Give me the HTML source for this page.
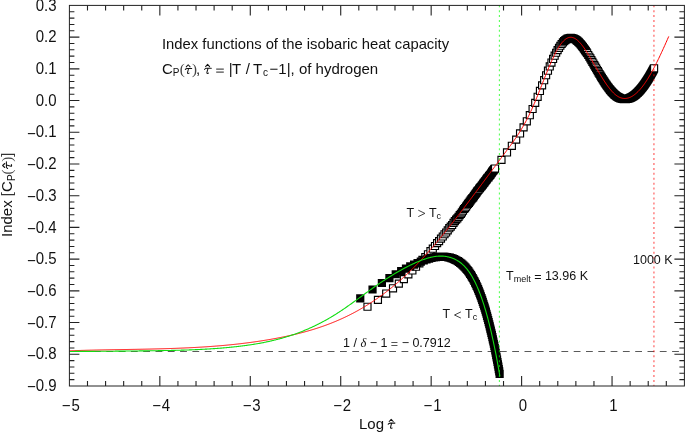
<!DOCTYPE html>
<html><head><meta charset="utf-8"><style>
html,body{margin:0;padding:0;background:#fff;}
svg{display:block;will-change:transform;font-family:"Liberation Sans",sans-serif;-webkit-font-smoothing:antialiased;}
text:not([fill]){fill:#111;}
</style></head><body>
<svg width="685" height="432" viewBox="0 0 685 432">
<rect width="685" height="432" fill="#fff"/>
<line x1="69.4" y1="351.49" x2="684.4" y2="351.49" stroke="#5a5a5a" stroke-width="1.05" stroke-dasharray="6.8 5.5"/>
<path fill="#000" d="M435.85 252.68 L433.90 252.68 L433.90 252.94 L431.86 252.94 L431.86 253.31 L429.71 253.31 L429.71 253.82 L427.42 253.82 L427.42 254.48 L425.00 254.48 L425.00 255.30 L422.42 255.30 L422.42 256.29 L419.66 256.29 L419.66 257.48 L416.69 257.48 L416.69 258.89 L413.47 258.89 L413.47 260.50 L409.97 260.50 L409.97 262.33 L406.13 262.33 L406.13 264.48 L401.87 264.48 L401.87 267.05 L397.08 267.05 L397.08 270.17 L391.64 270.17 L391.64 274.01 L385.32 274.01 L385.32 278.90 L377.78 278.90 L377.78 287.10 L385.98 287.10 L385.98 282.21 L393.52 282.21 L393.52 278.37 L399.84 278.37 L399.84 275.25 L405.28 275.25 L405.28 272.68 L410.07 272.68 L410.07 270.53 L414.33 270.53 L414.33 268.70 L418.17 268.70 L418.17 267.09 L421.67 267.09 L421.67 265.68 L424.89 265.68 L424.89 264.49 L427.86 264.49 L427.86 263.50 L430.62 263.50 L430.62 262.68 L433.20 262.68 L433.20 262.02 L435.62 262.02 L435.62 261.51 L437.91 261.51 L437.91 261.14 L440.06 261.14 L440.06 260.88 L441.16 260.88 L441.16 260.90 L442.78 260.90 L442.78 261.12 L444.34 261.12 L444.34 261.41 L445.83 261.41 L445.83 261.77 L447.28 261.77 L447.28 262.22 L448.67 262.22 L448.67 262.73 L450.01 262.73 L450.01 263.30 L451.31 263.30 L451.31 263.91 L452.57 263.91 L452.57 264.58 L453.79 264.58 L453.79 265.29 L454.97 265.29 L454.97 266.06 L456.12 266.06 L456.12 266.88 L457.23 266.88 L457.23 267.76 L458.32 267.76 L458.32 268.69 L459.37 268.69 L459.37 269.67 L460.40 269.67 L460.40 270.70 L461.40 270.70 L461.40 271.78 L462.38 271.78 L462.38 272.91 L463.33 272.91 L463.33 274.08 L464.26 274.08 L464.26 275.31 L465.17 275.31 L465.17 276.58 L466.06 276.58 L466.06 277.90 L466.93 277.90 L466.93 279.26 L467.78 279.26 L467.78 280.66 L468.61 280.66 L468.61 282.10 L469.42 282.10 L469.42 283.58 L470.22 283.58 L470.22 285.10 L471.00 285.10 L471.00 286.66 L471.77 286.66 L471.77 288.25 L472.52 288.25 L472.52 289.88 L473.26 289.88 L473.26 291.55 L473.99 291.55 L473.99 293.24 L474.70 293.24 L474.70 294.97 L475.40 294.97 L475.40 296.73 L476.08 296.73 L476.08 298.52 L476.76 298.52 L476.76 300.34 L477.42 300.34 L477.42 302.18 L478.07 302.18 L478.07 304.05 L478.71 304.05 L478.71 305.95 L479.34 305.95 L479.34 307.88 L479.97 307.88 L479.97 309.83 L480.58 309.83 L480.58 311.80 L481.18 311.80 L481.18 313.79 L481.77 313.79 L481.77 315.81 L482.36 315.81 L482.36 317.85 L482.93 317.85 L482.93 319.91 L483.50 319.91 L483.50 321.99 L484.06 321.99 L484.06 324.09 L484.61 324.09 L484.61 326.21 L485.15 326.21 L485.15 328.35 L485.69 328.35 L485.69 330.51 L486.22 330.51 L486.22 332.64 L486.74 332.64 L486.74 334.76 L487.26 334.76 L487.26 336.90 L487.77 336.90 L487.77 339.05 L488.27 339.05 L488.27 341.22 L488.76 341.22 L488.76 343.41 L489.25 343.41 L489.25 345.61 L489.74 345.61 L489.74 347.83 L490.22 347.83 L490.22 350.07 L490.69 350.07 L490.69 352.32 L491.15 352.32 L491.15 354.58 L491.61 354.58 L491.61 356.86 L492.07 356.86 L492.07 359.15 L492.52 359.15 L492.52 361.45 L492.97 361.45 L492.97 363.77 L493.41 363.77 L493.41 366.10 L493.84 366.10 L493.84 368.44 L494.27 368.44 L494.27 370.79 L494.70 370.79 L494.70 373.16 L495.12 373.16 L495.12 375.53 L495.54 375.53 L495.54 377.92 L503.74 377.92 L503.74 369.72 L503.32 369.72 L503.32 367.33 L502.90 367.33 L502.90 364.96 L502.47 364.96 L502.47 362.59 L502.04 362.59 L502.04 360.24 L501.61 360.24 L501.61 357.90 L501.17 357.90 L501.17 355.57 L500.72 355.57 L500.72 353.25 L500.27 353.25 L500.27 350.95 L499.81 350.95 L499.81 348.66 L499.35 348.66 L499.35 346.38 L498.89 346.38 L498.89 344.12 L498.42 344.12 L498.42 341.87 L497.94 341.87 L497.94 339.63 L497.45 339.63 L497.45 337.41 L496.96 337.41 L496.96 335.21 L496.47 335.21 L496.47 333.02 L495.97 333.02 L495.97 330.85 L495.46 330.85 L495.46 328.70 L494.94 328.70 L494.94 326.56 L494.42 326.56 L494.42 324.44 L493.89 324.44 L493.89 322.31 L493.35 322.31 L493.35 320.15 L492.81 320.15 L492.81 318.01 L492.26 318.01 L492.26 315.89 L491.70 315.89 L491.70 313.79 L491.13 313.79 L491.13 311.71 L490.56 311.71 L490.56 309.65 L489.97 309.65 L489.97 307.61 L489.38 307.61 L489.38 305.59 L488.78 305.59 L488.78 303.60 L488.17 303.60 L488.17 301.63 L487.54 301.63 L487.54 299.68 L486.91 299.68 L486.91 297.75 L486.27 297.75 L486.27 295.85 L485.62 295.85 L485.62 293.98 L484.96 293.98 L484.96 292.14 L484.28 292.14 L484.28 290.32 L483.60 290.32 L483.60 288.53 L482.90 288.53 L482.90 286.77 L482.19 286.77 L482.19 285.04 L481.46 285.04 L481.46 283.35 L480.72 283.35 L480.72 281.68 L479.97 281.68 L479.97 280.05 L479.20 280.05 L479.20 278.46 L478.42 278.46 L478.42 276.90 L477.62 276.90 L477.62 275.38 L476.81 275.38 L476.81 273.90 L475.98 273.90 L475.98 272.46 L475.13 272.46 L475.13 271.06 L474.26 271.06 L474.26 269.70 L473.37 269.70 L473.37 268.38 L472.46 268.38 L472.46 267.11 L471.53 267.11 L471.53 265.88 L470.58 265.88 L470.58 264.71 L469.60 264.71 L469.60 263.58 L468.60 263.58 L468.60 262.50 L467.57 262.50 L467.57 261.47 L466.52 261.47 L466.52 260.49 L465.43 260.49 L465.43 259.56 L464.32 259.56 L464.32 258.68 L463.17 258.68 L463.17 257.86 L461.99 257.86 L461.99 257.09 L460.77 257.09 L460.77 256.38 L459.51 256.38 L459.51 255.71 L458.21 255.71 L458.21 255.10 L456.87 255.10 L456.87 254.53 L455.48 254.53 L455.48 254.02 L454.03 254.02 L454.03 253.57 L452.54 253.57 L452.54 253.21 L450.98 253.21 L450.98 252.92 L449.36 252.92 L449.36 252.70 L447.67 252.70 L447.67 252.56 L445.90 252.56 L445.90 252.50 L437.70 252.50 L437.70 252.54 L435.85 252.54ZM376.64 293.58 L376.64 285.38 L368.44 285.38 L368.44 293.58ZM356.16 302.50 L364.36 302.50 L364.36 294.30 L356.16 294.30Z"/>
<path fill="#000" d="M470.65 192.01 L469.86 192.01 L469.86 193.29 L469.06 193.29 L469.06 194.11 L468.24 194.11 L468.24 195.12 L467.40 195.12 L467.40 196.25 L466.54 196.25 L466.54 197.56 L465.66 197.56 L465.66 198.72 L464.77 198.72 L464.77 199.82 L463.85 199.82 L463.85 201.16 L462.91 201.16 L462.91 202.58 L461.94 202.58 L461.94 203.96 L460.96 203.96 L460.96 204.90 L459.94 204.90 L459.94 206.48 L458.90 206.48 L458.90 208.21 L457.83 208.21 L457.83 209.70 L456.74 209.70 L456.74 211.01 L455.61 211.01 L455.61 212.75 L454.44 212.75 L454.44 214.28 L453.25 214.28 L453.25 215.50 L452.01 215.50 L452.01 217.04 L450.73 217.04 L450.73 218.79 L449.41 218.79 L449.41 220.88 L448.05 220.88 L448.05 222.52 L446.63 222.52 L446.63 224.11 L445.17 224.11 L445.17 226.23 L443.64 226.23 L443.64 228.40 L442.06 228.40 L442.06 230.17 L440.40 230.17 L440.40 232.40 L438.68 232.40 L438.68 234.50 L436.88 234.50 L436.88 237.01 L434.98 237.01 L434.98 239.03 L433.00 239.03 L433.00 241.92 L430.91 241.92 L430.91 244.58 L428.70 244.58 L428.70 247.02 L426.35 247.02 L426.35 250.13 L423.86 250.13 L423.86 252.98 L421.20 252.98 L421.20 255.83 L418.35 255.83 L418.35 259.42 L415.27 259.42 L415.27 262.63 L411.94 262.63 L411.94 266.42 L408.29 266.42 L408.29 270.28 L404.27 270.28 L404.27 275.02 L399.79 275.02 L399.79 279.54 L394.73 279.54 L394.73 284.19 L388.92 284.19 L388.92 289.46 L382.10 289.46 L382.10 297.66 L390.30 297.66 L390.30 292.39 L397.12 292.39 L397.12 287.74 L402.93 287.74 L402.93 283.22 L407.99 283.22 L407.99 278.48 L412.47 278.48 L412.47 274.62 L416.49 274.62 L416.49 270.83 L420.14 270.83 L420.14 267.62 L423.47 267.62 L423.47 264.03 L426.55 264.03 L426.55 261.18 L429.40 261.18 L429.40 258.33 L432.06 258.33 L432.06 255.22 L434.55 255.22 L434.55 252.78 L436.90 252.78 L436.90 250.12 L439.11 250.12 L439.11 247.23 L441.20 247.23 L441.20 245.21 L443.18 245.21 L443.18 242.70 L445.08 242.70 L445.08 240.60 L446.88 240.60 L446.88 238.37 L448.60 238.37 L448.60 236.60 L450.26 236.60 L450.26 234.43 L451.84 234.43 L451.84 232.31 L453.37 232.31 L453.37 230.72 L454.83 230.72 L454.83 229.08 L456.25 229.08 L456.25 226.99 L457.61 226.99 L457.61 225.24 L458.93 225.24 L458.93 223.70 L460.21 223.70 L460.21 222.48 L461.45 222.48 L461.45 220.95 L462.64 220.95 L462.64 219.21 L463.81 219.21 L463.81 217.90 L464.94 217.90 L464.94 216.41 L466.03 216.41 L466.03 214.68 L467.10 214.68 L467.10 213.10 L468.14 213.10 L468.14 212.16 L469.16 212.16 L469.16 210.78 L470.14 210.78 L470.14 209.36 L471.11 209.36 L471.11 208.02 L472.05 208.02 L472.05 206.92 L472.97 206.92 L472.97 205.76 L473.86 205.76 L473.86 204.45 L474.74 204.45 L474.74 203.32 L475.60 203.32 L475.60 202.31 L476.44 202.31 L476.44 201.49 L477.26 201.49 L477.26 200.21 L478.06 200.21 L478.06 198.94 L478.85 198.94 L478.85 197.90 L479.63 197.90 L479.63 197.00 L480.39 197.00 L480.39 195.82 L481.13 195.82 L481.13 194.83 L481.86 194.83 L481.86 194.08 L482.58 194.08 L482.58 192.84 L483.28 192.84 L483.28 192.18 L483.97 192.18 L483.97 191.21 L484.65 191.21 L484.65 190.59 L485.32 190.59 L485.32 189.77 L485.98 189.77 L485.98 188.89 L486.63 188.89 L486.63 188.07 L487.26 188.07 L487.26 187.04 L487.89 187.04 L487.89 186.45 L488.50 186.45 L488.50 185.44 L489.11 185.44 L489.11 184.83 L489.71 184.83 L489.71 183.89 L490.30 183.89 L490.30 183.23 L490.87 183.23 L490.87 182.22 L491.45 182.22 L491.45 181.62 L492.01 181.62 L492.01 181.41 L492.56 181.41 L492.56 180.18 L493.11 180.18 L493.11 179.81 L493.65 179.81 L493.65 179.09 L494.18 179.09 L494.18 178.46 L494.71 178.46 L494.71 177.62 L495.23 177.62 L495.23 177.04 L495.74 177.04 L495.74 176.01 L496.24 176.01 L496.24 175.37 L496.74 175.37 L496.74 174.82 L497.23 174.82 L497.23 174.16 L497.72 174.16 L497.72 173.50 L498.20 173.50 L498.20 172.91 L498.68 172.91 L498.68 172.60 L499.14 172.60 L499.14 164.40 L490.94 164.40 L490.94 164.71 L490.48 164.71 L490.48 165.30 L490.00 165.30 L490.00 165.96 L489.52 165.96 L489.52 166.62 L489.03 166.62 L489.03 167.17 L488.54 167.17 L488.54 167.81 L488.04 167.81 L488.04 168.84 L487.54 168.84 L487.54 169.42 L487.03 169.42 L487.03 170.26 L486.51 170.26 L486.51 170.89 L485.98 170.89 L485.98 171.61 L485.45 171.61 L485.45 171.98 L484.91 171.98 L484.91 173.21 L484.36 173.21 L484.36 173.42 L483.81 173.42 L483.81 174.02 L483.25 174.02 L483.25 175.03 L482.67 175.03 L482.67 175.69 L482.10 175.69 L482.10 176.63 L481.51 176.63 L481.51 177.24 L480.91 177.24 L480.91 178.25 L480.30 178.25 L480.30 178.84 L479.69 178.84 L479.69 179.87 L479.06 179.87 L479.06 180.69 L478.43 180.69 L478.43 181.57 L477.78 181.57 L477.78 182.39 L477.12 182.39 L477.12 183.01 L476.45 183.01 L476.45 183.98 L475.77 183.98 L475.77 184.64 L475.08 184.64 L475.08 185.88 L474.38 185.88 L474.38 186.63 L473.66 186.63 L473.66 187.62 L472.93 187.62 L472.93 188.80 L472.19 188.80 L472.19 189.70 L471.43 189.70 L471.43 190.74 L470.65 190.74ZM430.91 257.18 L425.01 257.18 L425.01 251.28 L426.35 251.28 L426.35 255.22 L430.91 255.22ZM455.59 219.80 L455.59 213.90 L455.61 213.90 L455.61 219.21 L461.49 219.21 L461.49 219.80ZM471.01 199.06 L471.01 198.94 L476.91 198.94 L476.91 199.06ZM470.21 200.21 L476.11 200.21 L476.11 200.34 L470.21 200.34ZM466.81 204.45 L472.71 204.45 L472.71 204.61 L466.81 204.61ZM471.82 205.76 L471.82 205.77 L465.92 205.77 L465.92 205.76ZM463.09 209.63 L463.09 209.36 L468.99 209.36 L468.99 209.63ZM464.06 208.02 L469.96 208.02 L469.96 208.21 L464.06 208.21ZM462.11 210.78 L468.01 210.78 L468.01 211.01 L462.11 211.01ZM458.98 215.26 L458.98 214.68 L464.88 214.68 L464.88 215.26ZM460.05 213.10 L465.95 213.10 L465.95 213.53 L460.05 213.53ZM457.89 216.41 L463.79 216.41 L463.79 216.75 L457.89 216.75ZM462.66 217.90 L462.66 218.06 L456.76 218.06 L456.76 217.90ZM443.21 229.55 L443.64 229.55 L443.64 234.43 L449.11 234.43 L449.11 235.45 L443.21 235.45ZM450.73 219.94 L450.73 225.24 L456.46 225.24 L456.46 225.84 L450.56 225.84 L450.56 219.94ZM453.25 222.48 L459.06 222.48 L459.06 222.55 L453.16 222.55 L453.16 216.65 L453.25 216.65ZM460.30 221.33 L454.40 221.33 L454.40 215.43 L454.44 215.43 L454.44 220.95 L460.30 220.95ZM457.78 224.09 L451.88 224.09 L451.88 218.19 L452.01 218.19 L452.01 223.70 L457.78 223.70ZM448.05 229.08 L453.68 229.08 L453.68 229.57 L447.78 229.57 L447.78 223.67 L448.05 223.67ZM455.10 227.93 L449.20 227.93 L449.20 222.03 L449.41 222.03 L449.41 226.99 L455.10 226.99ZM452.22 231.16 L446.32 231.16 L446.32 225.26 L446.63 225.26 L446.63 230.72 L452.22 230.72ZM444.79 233.28 L444.79 227.38 L445.17 227.38 L445.17 232.31 L450.69 232.31 L450.69 233.28ZM436.88 238.16 L436.88 242.70 L442.03 242.70 L442.03 244.06 L436.13 244.06 L436.13 238.16ZM440.40 238.37 L445.73 238.37 L445.73 239.45 L439.83 239.45 L439.83 233.55 L440.40 233.55ZM447.45 237.22 L441.55 237.22 L441.55 231.32 L442.06 231.32 L442.06 236.60 L447.45 236.60ZM443.93 241.55 L438.03 241.55 L438.03 235.65 L438.68 235.65 L438.68 240.60 L443.93 240.60ZM433.00 247.23 L437.96 247.23 L437.96 248.97 L432.06 248.97 L432.06 243.07 L433.00 243.07ZM440.05 246.08 L434.15 246.08 L434.15 240.18 L434.98 240.18 L434.98 245.21 L440.05 245.21ZM435.75 251.63 L429.85 251.63 L429.85 245.73 L430.91 245.73 L430.91 250.12 L435.75 250.12ZM427.50 254.07 L427.50 248.17 L428.70 248.17 L428.70 252.78 L433.40 252.78 L433.40 254.07ZM390.07 285.34 L394.73 285.34 L394.73 287.74 L395.97 287.74 L395.97 291.24 L390.07 291.24ZM415.27 263.78 L415.27 267.62 L418.99 267.62 L418.99 269.68 L413.09 269.68 L413.09 263.78ZM421.20 261.18 L425.40 261.18 L425.40 262.88 L419.50 262.88 L419.50 256.98 L421.20 256.98ZM428.25 260.03 L422.35 260.03 L422.35 254.13 L423.86 254.13 L423.86 258.33 L428.25 258.33ZM422.32 266.47 L416.42 266.47 L416.42 260.57 L418.35 260.57 L418.35 264.03 L422.32 264.03ZM408.29 274.62 L411.32 274.62 L411.32 277.33 L405.42 277.33 L405.42 271.43 L408.29 271.43ZM415.34 273.47 L409.44 273.47 L409.44 267.57 L411.94 267.57 L411.94 270.83 L415.34 270.83ZM406.84 282.07 L400.94 282.07 L400.94 276.17 L404.27 276.17 L404.27 278.48 L406.84 278.48ZM395.88 286.59 L395.88 280.69 L399.79 280.69 L399.79 283.22 L401.78 283.22 L401.78 286.59ZM389.15 296.51 L383.25 296.51 L383.25 290.61 L388.92 290.61 L388.92 292.39 L389.15 292.39ZM492.09 171.45 L492.09 165.55 L497.99 165.55 L497.99 171.45ZM485.51 180.18 L491.41 180.18 L491.41 180.26 L485.51 180.26ZM475.53 192.84 L481.43 192.84 L481.43 192.93 L475.53 192.93ZM473.34 195.85 L473.34 195.82 L479.24 195.82 L479.24 195.85ZM373.84 304.01 L382.04 304.01 L382.04 295.81 L373.84 295.81ZM374.99 302.86 L374.99 296.96 L380.89 296.96 L380.89 302.86ZM363.38 310.83 L371.58 310.83 L371.58 302.63 L363.38 302.63ZM364.53 309.68 L364.53 303.78 L370.43 303.78 L370.43 309.68ZM543.87 71.17 L542.01 71.17 L542.01 76.09 L540.06 76.09 L540.06 81.32 L538.00 81.32 L538.00 86.86 L535.84 86.86 L535.84 92.70 L533.54 92.70 L533.54 98.75 L531.10 98.75 L531.10 104.92 L528.50 104.92 L528.50 111.10 L525.72 111.10 L525.72 117.21 L522.72 117.21 L522.72 123.28 L519.48 123.28 L519.48 129.35 L515.95 129.35 L515.95 135.48 L512.06 135.48 L512.06 141.71 L507.75 141.71 L507.75 148.35 L502.91 148.35 L502.91 155.82 L497.38 155.82 L497.38 164.02 L505.58 164.02 L505.58 156.55 L511.11 156.55 L511.11 149.91 L515.95 149.91 L515.95 143.68 L520.26 143.68 L520.26 137.55 L524.15 137.55 L524.15 131.48 L527.68 131.48 L527.68 125.41 L530.92 125.41 L530.92 119.30 L533.92 119.30 L533.92 113.12 L536.70 113.12 L536.70 106.95 L539.30 106.95 L539.30 100.90 L541.74 100.90 L541.74 95.06 L544.04 95.06 L544.04 89.52 L546.20 89.52 L546.20 84.29 L548.26 84.29 L548.26 79.37 L550.21 79.37 L550.21 74.79 L552.07 74.79 L552.07 70.55 L553.85 70.55 L553.85 66.64 L555.55 66.64 L555.55 63.06 L557.18 63.06 L557.18 59.81 L558.74 59.81 L558.74 56.87 L560.24 56.87 L560.24 54.24 L561.69 54.24 L561.69 51.90 L563.09 51.90 L563.09 49.86 L564.44 49.86 L564.44 48.08 L565.74 48.08 L565.74 46.57 L567.01 46.57 L567.01 45.30 L568.23 45.30 L568.23 44.26 L569.41 44.26 L569.41 43.43 L570.57 43.43 L570.57 43.09 L571.44 43.09 L571.44 43.62 L572.33 43.62 L572.33 44.23 L573.20 44.23 L573.20 44.92 L574.06 44.92 L574.06 45.67 L574.89 45.67 L574.89 46.48 L575.71 46.48 L575.71 47.34 L576.50 47.34 L576.50 48.23 L577.29 48.23 L577.29 49.17 L578.06 49.17 L578.06 50.13 L578.81 50.13 L578.81 51.12 L579.55 51.12 L579.55 52.13 L580.28 52.13 L580.28 53.15 L580.99 53.15 L580.99 54.19 L581.69 54.19 L581.69 55.23 L582.38 55.23 L582.38 56.28 L583.05 56.28 L583.05 57.34 L584.15 57.34 L584.15 59.09 L585.22 59.09 L585.22 60.84 L586.27 60.84 L586.27 62.57 L587.28 62.57 L587.28 64.27 L588.27 64.27 L588.27 65.95 L589.24 65.95 L589.24 67.60 L590.18 67.60 L590.18 69.22 L591.10 69.22 L591.10 70.80 L592.00 70.80 L592.00 72.34 L592.88 72.34 L592.88 73.84 L593.74 73.84 L593.74 75.30 L594.58 75.30 L594.58 76.73 L595.41 76.73 L595.41 78.11 L596.21 78.11 L596.21 79.45 L597.00 79.45 L597.00 80.75 L597.78 80.75 L597.78 82.01 L598.54 82.01 L598.54 83.23 L599.29 83.23 L599.29 84.41 L600.02 84.41 L600.02 85.54 L600.74 85.54 L600.74 86.64 L601.44 86.64 L601.44 87.69 L602.13 87.69 L602.13 88.70 L602.82 88.70 L602.82 89.67 L603.48 89.67 L603.48 90.61 L604.14 90.61 L604.14 91.50 L604.79 91.50 L604.79 92.36 L605.43 92.36 L605.43 93.17 L606.05 93.17 L606.05 93.95 L606.67 93.95 L606.67 94.69 L607.28 94.69 L607.28 95.40 L607.88 95.40 L607.88 96.07 L608.47 96.07 L608.47 96.71 L609.05 96.71 L609.05 97.30 L609.62 97.30 L609.62 97.87 L610.18 97.87 L610.18 98.40 L610.74 98.40 L610.74 98.90 L611.29 98.90 L611.29 99.37 L611.83 99.37 L611.83 99.80 L612.36 99.80 L612.36 100.20 L612.89 100.20 L612.89 100.58 L613.40 100.58 L613.40 100.92 L613.92 100.92 L613.92 101.23 L614.42 101.23 L614.42 101.52 L614.92 101.52 L614.92 101.78 L615.41 101.78 L615.41 102.01 L615.90 102.01 L615.90 102.22 L616.38 102.22 L616.38 102.41 L616.86 102.41 L616.86 102.57 L617.33 102.57 L617.33 102.71 L617.79 102.71 L617.79 102.84 L618.25 102.84 L618.25 102.94 L618.70 102.94 L618.70 103.02 L619.15 103.02 L619.15 103.09 L619.59 103.09 L619.59 103.13 L620.03 103.13 L620.03 103.17 L620.46 103.17 L620.46 103.18 L628.66 103.18 L628.66 103.18 L629.09 103.18 L629.09 103.16 L629.52 103.16 L629.52 103.13 L629.94 103.13 L629.94 103.09 L630.35 103.09 L630.35 103.03 L630.76 103.03 L630.76 102.96 L631.17 102.96 L631.17 102.88 L631.57 102.88 L631.57 102.78 L631.97 102.78 L631.97 102.67 L632.36 102.67 L632.36 102.56 L632.75 102.56 L632.75 102.43 L633.14 102.43 L633.14 102.29 L633.52 102.29 L633.52 102.14 L633.90 102.14 L633.90 101.98 L634.28 101.98 L634.28 101.82 L634.65 101.82 L634.65 101.64 L635.02 101.64 L635.02 101.46 L635.38 101.46 L635.38 101.26 L635.74 101.26 L635.74 101.06 L636.10 101.06 L636.10 100.86 L636.46 100.86 L636.46 100.64 L636.81 100.64 L636.81 100.42 L637.16 100.42 L637.16 100.19 L637.50 100.19 L637.50 99.95 L637.84 99.95 L637.84 99.71 L638.18 99.71 L638.18 99.46 L638.52 99.46 L638.52 99.21 L638.85 99.21 L638.85 98.95 L639.18 98.95 L639.18 98.68 L639.51 98.68 L639.51 98.41 L639.84 98.41 L639.84 98.13 L640.16 98.13 L640.16 97.85 L640.48 97.85 L640.48 97.57 L640.80 97.57 L640.80 97.28 L641.11 97.28 L641.11 96.98 L641.43 96.98 L641.43 96.68 L641.74 96.68 L641.74 96.38 L642.04 96.38 L642.04 96.07 L642.35 96.07 L642.35 95.76 L642.65 95.76 L642.65 95.44 L642.95 95.44 L642.95 95.13 L643.25 95.13 L643.25 94.80 L643.55 94.80 L643.55 94.48 L643.84 94.48 L643.84 94.15 L644.13 94.15 L644.13 93.82 L644.42 93.82 L644.42 93.48 L644.71 93.48 L644.71 93.15 L644.99 93.15 L644.99 92.81 L645.28 92.81 L645.28 92.46 L645.56 92.46 L645.56 92.12 L645.84 92.12 L645.84 91.77 L646.12 91.77 L646.12 91.42 L646.39 91.42 L646.39 91.07 L646.66 91.07 L646.66 90.71 L646.94 90.71 L646.94 90.36 L647.21 90.36 L647.21 90.00 L647.47 90.00 L647.47 89.64 L647.74 89.64 L647.74 89.28 L648.00 89.28 L648.00 88.91 L648.27 88.91 L648.27 88.55 L648.53 88.55 L648.53 88.18 L648.79 88.18 L648.79 87.81 L649.04 87.81 L649.04 87.44 L649.30 87.44 L649.30 87.07 L649.55 87.07 L649.55 86.70 L649.80 86.70 L649.80 86.32 L650.06 86.32 L650.06 85.95 L650.30 85.95 L650.30 85.57 L650.55 85.57 L650.55 85.19 L650.80 85.19 L650.80 84.81 L651.04 84.81 L651.04 84.43 L651.29 84.43 L651.29 84.05 L651.53 84.05 L651.53 83.67 L651.77 83.67 L651.77 83.29 L652.01 83.29 L652.01 82.90 L652.24 82.90 L652.24 82.52 L652.48 82.52 L652.48 82.13 L652.71 82.13 L652.71 81.75 L652.95 81.75 L652.95 81.36 L653.18 81.36 L653.18 80.98 L653.41 80.98 L653.41 80.59 L653.64 80.59 L653.64 80.20 L653.86 80.20 L653.86 79.81 L654.09 79.81 L654.09 79.43 L654.31 79.43 L654.31 79.04 L654.54 79.04 L654.54 78.65 L654.76 78.65 L654.76 78.26 L654.98 78.26 L654.98 77.87 L655.20 77.87 L655.20 77.48 L655.42 77.48 L655.42 77.10 L655.64 77.10 L655.64 76.71 L655.85 76.71 L655.85 76.32 L656.07 76.32 L656.07 75.93 L656.28 75.93 L656.28 75.54 L656.50 75.54 L656.50 75.15 L656.71 75.15 L656.71 74.76 L656.92 74.76 L656.92 74.38 L657.13 74.38 L657.13 73.99 L657.33 73.99 L657.33 73.60 L657.54 73.60 L657.54 73.21 L657.75 73.21 L657.75 72.82 L657.95 72.82 L657.95 72.44 L658.16 72.44 L658.16 72.36 L658.20 72.36 L658.20 64.16 L650.00 64.16 L650.00 64.24 L649.96 64.24 L649.96 64.62 L649.75 64.62 L649.75 65.01 L649.55 65.01 L649.55 65.40 L649.34 65.40 L649.34 65.79 L649.13 65.79 L649.13 66.18 L648.93 66.18 L648.93 66.56 L648.72 66.56 L648.72 66.95 L648.51 66.95 L648.51 67.34 L648.30 67.34 L648.30 67.73 L648.08 67.73 L648.08 68.12 L647.87 68.12 L647.87 68.51 L647.65 68.51 L647.65 68.90 L647.44 68.90 L647.44 69.28 L647.22 69.28 L647.22 69.67 L647.00 69.67 L647.00 70.06 L646.78 70.06 L646.78 70.45 L646.56 70.45 L646.56 70.84 L646.34 70.84 L646.34 71.23 L646.11 71.23 L646.11 71.61 L645.89 71.61 L645.89 72.00 L645.66 72.00 L645.66 72.39 L645.44 72.39 L645.44 72.78 L645.21 72.78 L645.21 73.16 L644.98 73.16 L644.98 73.55 L644.75 73.55 L644.75 73.93 L644.51 73.93 L644.51 74.32 L644.28 74.32 L644.28 74.70 L644.04 74.70 L644.04 75.09 L643.81 75.09 L643.81 75.47 L643.57 75.47 L643.57 75.85 L643.33 75.85 L643.33 76.23 L643.09 76.23 L643.09 76.61 L642.84 76.61 L642.84 76.99 L642.60 76.99 L642.60 77.37 L642.35 77.37 L642.35 77.75 L642.10 77.75 L642.10 78.12 L641.86 78.12 L641.86 78.50 L641.60 78.50 L641.60 78.87 L641.35 78.87 L641.35 79.24 L641.10 79.24 L641.10 79.61 L640.84 79.61 L640.84 79.98 L640.59 79.98 L640.59 80.35 L640.33 80.35 L640.33 80.71 L640.07 80.71 L640.07 81.08 L639.80 81.08 L639.80 81.44 L639.54 81.44 L639.54 81.80 L639.27 81.80 L639.27 82.16 L639.01 82.16 L639.01 82.51 L638.74 82.51 L638.74 82.87 L638.46 82.87 L638.46 83.22 L638.19 83.22 L638.19 83.57 L637.92 83.57 L637.92 83.92 L637.64 83.92 L637.64 84.26 L637.36 84.26 L637.36 84.61 L637.08 84.61 L637.08 84.95 L636.79 84.95 L636.79 85.28 L636.51 85.28 L636.51 85.62 L636.22 85.62 L636.22 85.95 L635.93 85.95 L635.93 86.28 L635.64 86.28 L635.64 86.60 L635.35 86.60 L635.35 86.93 L635.05 86.93 L635.05 87.24 L634.75 87.24 L634.75 87.56 L634.45 87.56 L634.45 87.87 L634.15 87.87 L634.15 88.18 L633.84 88.18 L633.84 88.48 L633.54 88.48 L633.54 88.78 L633.23 88.78 L633.23 89.08 L632.91 89.08 L632.91 89.37 L632.60 89.37 L632.60 89.65 L632.28 89.65 L632.28 89.93 L631.96 89.93 L631.96 90.21 L631.64 90.21 L631.64 90.48 L631.31 90.48 L631.31 90.75 L630.98 90.75 L630.98 91.01 L630.65 91.01 L630.65 91.26 L630.32 91.26 L630.32 91.51 L629.98 91.51 L629.98 91.75 L629.64 91.75 L629.64 91.99 L629.30 91.99 L629.30 92.22 L628.96 92.22 L628.96 92.44 L628.61 92.44 L628.61 92.66 L628.26 92.66 L628.26 92.86 L627.90 92.86 L627.90 93.06 L627.54 93.06 L627.54 93.26 L627.18 93.26 L627.18 93.44 L626.82 93.44 L626.82 93.62 L626.45 93.62 L626.45 93.78 L626.08 93.78 L626.08 93.94 L625.70 93.94 L625.70 94.09 L625.32 94.09 L625.32 94.23 L624.94 94.23 L624.94 94.36 L624.58 94.36 L624.58 94.21 L624.10 94.21 L624.10 94.02 L623.61 94.02 L623.61 93.81 L623.12 93.81 L623.12 93.58 L622.62 93.58 L622.62 93.32 L622.12 93.32 L622.12 93.03 L621.60 93.03 L621.60 92.72 L621.09 92.72 L621.09 92.38 L620.56 92.38 L620.56 92.00 L620.03 92.00 L620.03 91.60 L619.49 91.60 L619.49 91.17 L618.94 91.17 L618.94 90.70 L618.38 90.70 L618.38 90.20 L617.82 90.20 L617.82 89.67 L617.25 89.67 L617.25 89.10 L616.67 89.10 L616.67 88.51 L616.08 88.51 L616.08 87.87 L615.48 87.87 L615.48 87.20 L614.87 87.20 L614.87 86.49 L614.25 86.49 L614.25 85.75 L613.63 85.75 L613.63 84.97 L612.99 84.97 L612.99 84.16 L612.34 84.16 L612.34 83.30 L611.68 83.30 L611.68 82.41 L611.02 82.41 L611.02 81.47 L610.33 81.47 L610.33 80.50 L609.64 80.50 L609.64 79.49 L608.94 79.49 L608.94 78.44 L608.22 78.44 L608.22 77.34 L607.49 77.34 L607.49 76.21 L606.74 76.21 L606.74 75.03 L605.98 75.03 L605.98 73.81 L605.20 73.81 L605.20 72.55 L604.41 72.55 L604.41 71.25 L603.61 71.25 L603.61 69.91 L602.78 69.91 L602.78 68.53 L601.94 68.53 L601.94 67.10 L601.08 67.10 L601.08 65.64 L600.20 65.64 L600.20 64.14 L599.30 64.14 L599.30 62.60 L598.38 62.60 L598.38 61.02 L597.44 61.02 L597.44 59.40 L596.47 59.40 L596.47 57.75 L595.48 57.75 L595.48 56.07 L594.47 56.07 L594.47 54.37 L593.42 54.37 L593.42 52.64 L592.35 52.64 L592.35 50.89 L591.25 50.89 L591.25 49.14 L590.58 49.14 L590.58 48.08 L589.89 48.08 L589.89 47.03 L589.19 47.03 L589.19 45.99 L588.48 45.99 L588.48 44.95 L587.75 44.95 L587.75 43.93 L587.01 43.93 L587.01 42.92 L586.26 42.92 L586.26 41.93 L585.49 41.93 L585.49 40.97 L584.70 40.97 L584.70 40.03 L583.91 40.03 L583.91 39.14 L583.09 39.14 L583.09 38.28 L582.26 38.28 L582.26 37.47 L581.40 37.47 L581.40 36.72 L580.53 36.72 L580.53 36.03 L579.64 36.03 L579.64 35.42 L578.73 35.42 L578.73 34.89 L577.80 34.89 L577.80 34.46 L576.84 34.46 L576.84 34.14 L575.86 34.14 L575.86 33.94 L574.86 33.94 L574.86 33.87 L566.66 33.87 L566.66 33.94 L565.63 33.94 L565.63 34.19 L564.57 34.19 L564.57 34.62 L563.48 34.62 L563.48 35.23 L562.37 35.23 L562.37 36.06 L561.21 36.06 L561.21 37.10 L560.03 37.10 L560.03 38.37 L558.81 38.37 L558.81 39.88 L557.54 39.88 L557.54 41.66 L556.24 41.66 L556.24 43.70 L554.89 43.70 L554.89 46.04 L553.49 46.04 L553.49 48.67 L552.04 48.67 L552.04 51.61 L550.54 51.61 L550.54 54.86 L548.98 54.86 L548.98 58.44 L547.35 58.44 L547.35 62.35 L545.65 62.35 L545.65 66.59 L543.87 66.59ZM595.73 69.68 L601.63 69.68 L601.63 69.91 L595.73 69.91ZM545.65 70.55 L550.92 70.55 L550.92 73.64 L545.02 73.64 L545.02 67.74 L545.65 67.74ZM534.69 99.75 L534.69 93.85 L535.84 93.85 L535.84 95.06 L540.59 95.06 L540.59 99.75ZM542.01 79.37 L547.11 79.37 L547.11 83.14 L541.21 83.14 L541.21 77.24 L542.01 77.24ZM549.06 78.22 L543.16 78.22 L543.16 72.32 L543.87 72.32 L543.87 74.79 L549.06 74.79ZM545.05 88.37 L539.15 88.37 L539.15 82.47 L540.06 82.47 L540.06 84.29 L545.05 84.29ZM536.99 93.91 L536.99 88.01 L538.00 88.01 L538.00 89.52 L542.89 89.52 L542.89 93.91ZM504.06 149.50 L507.75 149.50 L507.75 149.91 L509.96 149.91 L509.96 155.40 L504.06 155.40ZM525.72 118.36 L525.72 119.30 L529.77 119.30 L529.77 124.26 L523.87 124.26 L523.87 118.36ZM531.10 106.95 L535.55 106.95 L535.55 111.97 L529.65 111.97 L529.65 106.07 L531.10 106.07ZM538.15 105.80 L532.25 105.80 L532.25 99.90 L533.54 99.90 L533.54 100.90 L538.15 100.90ZM532.77 118.15 L526.87 118.15 L526.87 112.25 L528.50 112.25 L528.50 113.12 L532.77 113.12ZM519.48 131.48 L523.00 131.48 L523.00 136.40 L517.10 136.40 L517.10 130.50 L519.48 130.50ZM526.53 130.33 L520.63 130.33 L520.63 124.43 L522.72 124.43 L522.72 125.41 L526.53 125.41ZM519.11 142.53 L513.21 142.53 L513.21 136.63 L515.95 136.63 L515.95 137.55 L519.11 137.55ZM508.90 148.76 L508.90 142.86 L512.06 142.86 L512.06 143.68 L514.80 143.68 L514.80 148.76ZM498.53 162.87 L498.53 156.97 L504.43 156.97 L504.43 162.87ZM561.18 38.25 L561.21 38.25 L561.21 44.15 L561.18 44.15ZM562.36 37.21 L562.37 37.21 L562.37 43.11 L562.36 43.11ZM588.43 57.22 L594.33 57.22 L594.33 57.75 L588.43 57.75ZM591.20 52.04 L591.20 52.64 L585.30 52.64 L585.30 52.04ZM584.20 50.89 L584.20 50.29 L590.10 50.29 L590.10 50.89ZM592.27 54.37 L586.37 54.37 L586.37 53.79 L592.27 53.79ZM587.42 56.07 L587.42 55.52 L593.32 55.52 L593.32 56.07ZM597.23 62.17 L597.23 62.60 L591.33 62.60 L591.33 62.17ZM595.32 59.40 L589.42 59.40 L589.42 58.90 L595.32 58.90ZM590.39 61.02 L590.39 60.55 L596.29 60.55 L596.29 61.02ZM599.05 65.64 L593.15 65.64 L593.15 65.29 L599.05 65.29ZM592.25 64.14 L592.25 63.75 L598.15 63.75 L598.15 64.14ZM594.03 67.10 L594.03 66.79 L599.93 66.79 L599.93 67.10ZM594.89 68.25 L600.79 68.25 L600.79 68.53 L594.89 68.53ZM553.19 55.72 L553.19 49.82 L553.49 49.82 L553.49 54.24 L559.09 54.24 L559.09 55.72ZM557.39 42.81 L557.54 42.81 L557.54 48.08 L563.29 48.08 L563.29 48.71 L557.39 48.71ZM560.03 39.52 L560.03 45.30 L565.86 45.30 L565.86 45.42 L559.96 45.42 L559.96 39.52ZM558.81 46.57 L564.59 46.57 L564.59 46.93 L558.69 46.93 L558.69 41.03 L558.81 41.03ZM554.89 47.19 L554.89 51.90 L560.54 51.90 L560.54 53.09 L554.64 53.09 L554.64 47.19ZM556.24 49.86 L561.94 49.86 L561.94 50.75 L556.04 50.75 L556.04 44.85 L556.24 44.85ZM548.50 59.59 L548.98 59.59 L548.98 63.06 L554.40 63.06 L554.40 65.49 L548.50 65.49ZM552.04 52.76 L552.04 56.87 L557.59 56.87 L557.59 58.66 L551.69 58.66 L551.69 52.76ZM550.54 59.81 L556.03 59.81 L556.03 61.91 L550.13 61.91 L550.13 56.01 L550.54 56.01ZM547.35 66.64 L552.70 66.64 L552.70 69.40 L546.80 69.40 L546.80 63.50 L547.35 63.50ZM604.83 74.96 L604.83 75.03 L598.93 75.03 L598.93 74.96ZM603.26 72.55 L597.36 72.55 L597.36 72.40 L603.26 72.40ZM596.56 71.25 L596.56 71.06 L602.46 71.06 L602.46 71.25ZM598.15 73.81 L598.15 73.70 L604.05 73.70 L604.05 73.81ZM599.69 76.21 L599.69 76.18 L605.59 76.18 L605.59 76.21ZM651.15 71.21 L651.15 65.31 L657.05 65.31 L657.05 71.21Z"/>
<line x1="499.4" y1="5.2" x2="499.4" y2="386" stroke="#0f0" stroke-opacity="0.66" stroke-width="1.1" stroke-dasharray="2 2.93"/>
<line x1="653.9" y1="5.2" x2="653.9" y2="386" stroke="#f00" stroke-opacity="0.42" stroke-width="1.8" stroke-dasharray="2 2.93"/>
<polyline fill="none" stroke="#f00" stroke-width="1.0" points="69.40,350.82 70.07,350.79 70.73,350.77 71.40,350.75 72.06,350.72 72.73,350.70 73.40,350.68 74.06,350.65 74.73,350.63 75.39,350.61 76.06,350.59 76.73,350.56 77.39,350.54 78.06,350.52 78.72,350.50 79.39,350.48 80.06,350.46 80.72,350.44 81.39,350.42 82.05,350.40 82.72,350.38 83.38,350.36 84.05,350.35 84.72,350.33 85.38,350.31 86.05,350.29 86.71,350.27 87.38,350.26 88.05,350.24 88.71,350.22 89.38,350.21 90.04,350.19 90.71,350.17 91.38,350.16 92.04,350.14 92.71,350.13 93.37,350.11 94.04,350.09 94.71,350.08 95.37,350.06 96.04,350.05 96.70,350.04 97.37,350.02 98.04,350.01 98.70,349.99 99.37,349.98 100.03,349.97 100.70,349.95 101.37,349.94 102.03,349.93 102.70,349.91 103.36,349.90 104.03,349.89 104.70,349.87 105.36,349.86 106.03,349.85 106.69,349.84 107.36,349.82 108.02,349.81 108.69,349.80 109.36,349.79 110.02,349.78 110.69,349.76 111.35,349.75 112.02,349.74 112.69,349.73 113.35,349.72 114.02,349.71 114.68,349.70 115.35,349.68 116.02,349.67 116.68,349.66 117.35,349.65 118.01,349.64 118.68,349.63 119.35,349.62 120.01,349.61 120.68,349.60 121.34,349.58 122.01,349.57 122.68,349.56 123.34,349.55 124.01,349.54 124.67,349.53 125.34,349.52 126.01,349.51 126.67,349.50 127.34,349.49 128.00,349.47 128.67,349.46 129.34,349.45 130.00,349.44 130.67,349.43 131.33,349.42 132.00,349.41 132.66,349.40 133.33,349.38 134.00,349.37 134.66,349.36 135.33,349.35 135.99,349.34 136.66,349.33 137.33,349.31 137.99,349.30 138.66,349.29 139.32,349.28 139.99,349.27 140.66,349.25 141.32,349.24 141.99,349.23 142.65,349.22 143.32,349.20 143.99,349.19 144.65,349.18 145.32,349.16 145.98,349.15 146.65,349.14 147.32,349.12 147.98,349.11 148.65,349.09 149.31,349.08 149.98,349.07 150.65,349.05 151.31,349.04 151.98,349.02 152.64,349.01 153.31,348.99 153.97,348.98 154.64,348.96 155.31,348.94 155.97,348.93 156.64,348.91 157.30,348.89 157.97,348.88 158.64,348.86 159.30,348.84 159.97,348.83 160.63,348.81 161.30,348.79 161.97,348.77 162.63,348.75 163.30,348.74 163.96,348.72 164.63,348.70 165.30,348.68 165.96,348.66 166.63,348.64 167.29,348.62 167.96,348.60 168.63,348.58 169.29,348.56 169.96,348.53 170.62,348.51 171.29,348.49 171.96,348.47 172.62,348.45 173.29,348.42 173.95,348.40 174.62,348.38 175.29,348.35 175.95,348.33 176.62,348.30 177.28,348.28 177.95,348.25 178.61,348.23 179.28,348.20 179.95,348.17 180.61,348.15 181.28,348.12 181.94,348.09 182.61,348.06 183.28,348.04 183.94,348.01 184.61,347.98 185.27,347.95 185.94,347.92 186.61,347.89 187.27,347.86 187.94,347.83 188.60,347.80 189.27,347.76 189.94,347.73 190.60,347.70 191.27,347.66 191.93,347.63 192.60,347.60 193.27,347.56 193.93,347.53 194.60,347.49 195.26,347.46 195.93,347.42 196.60,347.38 197.26,347.35 197.93,347.31 198.59,347.27 199.26,347.23 199.93,347.19 200.59,347.15 201.26,347.11 201.92,347.07 202.59,347.03 203.25,346.99 203.92,346.94 204.59,346.90 205.25,346.86 205.92,346.81 206.58,346.77 207.25,346.72 207.92,346.68 208.58,346.63 209.25,346.59 209.91,346.54 210.58,346.49 211.25,346.44 211.91,346.39 212.58,346.34 213.24,346.29 213.91,346.24 214.58,346.19 215.24,346.14 215.91,346.09 216.57,346.04 217.24,345.98 217.91,345.93 218.57,345.87 219.24,345.82 219.90,345.76 220.57,345.70 221.24,345.65 221.90,345.59 222.57,345.53 223.23,345.47 223.90,345.41 224.57,345.35 225.23,345.29 225.90,345.23 226.56,345.17 227.23,345.10 227.89,345.04 228.56,344.97 229.23,344.91 229.89,344.84 230.56,344.78 231.22,344.71 231.89,344.64 232.56,344.57 233.22,344.50 233.89,344.43 234.55,344.36 235.22,344.29 235.89,344.22 236.55,344.15 237.22,344.07 237.88,344.00 238.55,343.92 239.22,343.85 239.88,343.77 240.55,343.69 241.21,343.61 241.88,343.53 242.55,343.45 243.21,343.37 243.88,343.29 244.54,343.21 245.21,343.13 245.88,343.04 246.54,342.96 247.21,342.87 247.87,342.79 248.54,342.70 249.21,342.61 249.87,342.53 250.54,342.44 251.20,342.35 251.87,342.26 252.53,342.16 253.20,342.07 253.87,341.98 254.53,341.88 255.20,341.79 255.86,341.69 256.53,341.60 257.20,341.50 257.86,341.40 258.53,341.30 259.19,341.20 259.86,341.10 260.53,341.00 261.19,340.89 261.86,340.79 262.52,340.68 263.19,340.58 263.86,340.47 264.52,340.36 265.19,340.26 265.85,340.15 266.52,340.04 267.19,339.93 267.85,339.81 268.52,339.70 269.18,339.59 269.85,339.47 270.52,339.36 271.18,339.24 271.85,339.12 272.51,339.00 273.18,338.88 273.84,338.76 274.51,338.64 275.18,338.52 275.84,338.39 276.51,338.27 277.17,338.14 277.84,338.02 278.51,337.89 279.17,337.76 279.84,337.63 280.50,337.50 281.17,337.37 281.84,337.24 282.50,337.10 283.17,336.97 283.83,336.83 284.50,336.69 285.17,336.56 285.83,336.42 286.50,336.27 287.16,336.13 287.83,335.99 288.50,335.84 289.16,335.70 289.83,335.55 290.49,335.40 291.16,335.25 291.83,335.10 292.49,334.95 293.16,334.80 293.82,334.64 294.49,334.48 295.16,334.33 295.82,334.17 296.49,334.01 297.15,333.84 297.82,333.68 298.48,333.51 299.15,333.35 299.82,333.18 300.48,333.01 301.15,332.84 301.81,332.66 302.48,332.49 303.15,332.31 303.81,332.13 304.48,331.95 305.14,331.77 305.81,331.59 306.48,331.40 307.14,331.22 307.81,331.03 308.47,330.84 309.14,330.65 309.81,330.45 310.47,330.26 311.14,330.06 311.80,329.86 312.47,329.66 313.14,329.45 313.80,329.25 314.47,329.04 315.13,328.83 315.80,328.62 316.47,328.41 317.13,328.20 317.80,327.98 318.46,327.76 319.13,327.54 319.80,327.32 320.46,327.09 321.13,326.86 321.79,326.63 322.46,326.40 323.12,326.17 323.79,325.93 324.46,325.69 325.12,325.45 325.79,325.21 326.45,324.97 327.12,324.72 327.79,324.47 328.45,324.22 329.12,323.97 329.78,323.71 330.45,323.45 331.12,323.19 331.78,322.93 332.45,322.66 333.11,322.39 333.78,322.12 334.45,321.85 335.11,321.58 335.78,321.30 336.44,321.02 337.11,320.73 337.78,320.45 338.44,320.16 339.11,319.87 339.77,319.58 340.44,319.28 341.11,318.98 341.77,318.68 342.44,318.38 343.10,318.07 343.77,317.76 344.44,317.45 345.10,317.14 345.77,316.82 346.43,316.50 347.10,316.18 347.76,315.85 348.43,315.52 349.10,315.19 349.76,314.86 350.43,314.52 351.09,314.18 351.76,313.84 352.43,313.50 353.09,313.15 353.76,312.80 354.42,312.44 355.09,312.09 355.76,311.73 356.42,311.36 357.09,311.00 357.75,310.63 358.42,310.26 359.09,309.88 359.75,309.50 360.42,309.12 361.08,308.74 361.75,308.35 362.42,307.96 363.08,307.57 363.75,307.17 364.41,306.77 365.08,306.37 365.75,305.97 366.41,305.56 367.08,305.14 367.74,304.73 368.41,304.31 369.08,303.89 369.74,303.46 370.41,303.04 371.07,302.61 371.74,302.17 372.40,301.73 373.07,301.29 373.74,300.85 374.40,300.40 375.07,299.95 375.73,299.49 376.40,299.04 377.07,298.58 377.73,298.11 378.40,297.64 379.06,297.17 379.73,296.70 380.40,296.22 381.06,295.74 381.73,295.25 382.39,294.76 383.06,294.27 383.73,293.77 384.39,293.28 385.06,292.77 385.72,292.27 386.39,291.76 387.06,291.24 387.72,290.73 388.39,290.21 389.05,289.68 389.72,289.15 390.39,288.62 391.05,288.09 391.72,287.55 392.38,287.01 393.05,286.46 393.71,285.91 394.38,285.36 395.05,284.80 395.71,284.24 396.38,283.67 397.04,283.10 397.71,282.53 398.38,281.96 399.04,281.38 399.71,280.79 400.37,280.20 401.04,279.61 401.71,279.02 402.37,278.42 403.04,277.82 403.70,277.21 404.37,276.60 405.04,275.98 405.70,275.36 406.37,274.74 407.03,274.11 407.70,273.48 408.37,272.85 409.03,272.21 409.70,271.57 410.36,270.92 411.03,270.27 411.70,269.61 412.36,268.95 413.03,268.29 413.69,267.62 414.36,266.95 415.03,266.28 415.69,265.60 416.36,264.91 417.02,264.22 417.69,263.53 418.35,262.84 419.02,262.14 419.69,261.43 420.35,260.73 421.02,260.01 421.68,259.30 422.35,258.58 423.02,257.86 423.68,257.13 424.35,256.40 425.01,255.67 425.68,254.93 426.35,254.19 427.01,253.44 427.68,252.70 428.34,251.95 429.01,251.19 429.68,250.43 430.34,249.67 431.01,248.91 431.67,248.14 432.34,247.37 433.01,246.60 433.67,245.82 434.34,245.04 435.00,244.26 435.67,243.47 436.34,242.68 437.00,241.89 437.67,241.10 438.33,240.30 439.00,239.50 439.67,238.70 440.33,237.89 441.00,237.08 441.66,236.27 442.33,235.46 442.99,234.64 443.66,233.82 444.33,233.00 444.99,232.18 445.66,231.36 446.32,230.53 446.99,229.70 447.66,228.87 448.32,228.03 448.99,227.19 449.65,226.35 450.32,225.51 450.99,224.67 451.65,223.83 452.32,222.98 452.98,222.13 453.65,221.28 454.32,220.43 454.98,219.57 455.65,218.71 456.31,217.86 456.98,217.00 457.65,216.14 458.31,215.27 458.98,214.41 459.64,213.54 460.31,212.67 460.98,211.80 461.64,210.93 462.31,210.06 462.97,209.19 463.64,208.31 464.31,207.44 464.97,206.56 465.64,205.68 466.30,204.80 466.97,203.92 467.63,203.04 468.30,202.16 468.97,201.27 469.63,200.39 470.30,199.50 470.96,198.62 471.63,197.73 472.30,196.84 472.96,195.95 473.63,195.06 474.29,194.17 474.96,193.28 475.63,192.39 476.29,191.50 476.96,190.61 477.62,189.71 478.29,188.82 478.96,187.92 479.62,187.03 480.29,186.13 480.95,185.24 481.62,184.34 482.29,183.44 482.95,182.55 483.62,181.65 484.28,180.75 484.95,179.85 485.62,178.95 486.28,178.06 486.95,177.16 487.61,176.26 488.28,175.36 488.95,174.46 489.61,173.56 490.28,172.66 490.94,171.76 491.61,170.86 492.27,169.97 492.94,169.07 493.61,168.17 494.27,167.27 494.94,166.37 495.60,165.47 496.27,164.57 496.94,163.68 497.60,162.78 498.27,161.88 498.93,160.99 499.60,160.09 500.27,159.19 500.93,158.30 501.60,157.40 502.26,156.51 502.93,155.61 503.60,154.72 504.26,153.83 504.93,152.94 505.59,152.04 506.26,151.15 506.93,150.26 507.59,149.37 508.26,148.47 508.92,147.57 509.59,146.67 510.26,145.76 510.92,144.85 511.59,143.93 512.25,143.00 512.92,142.07 513.58,141.13 514.25,140.18 514.92,139.21 515.58,138.24 516.25,137.26 516.91,136.26 517.58,135.26 518.25,134.24 518.91,133.20 519.58,132.15 520.24,131.08 520.91,130.00 521.58,128.90 522.24,127.78 522.91,126.64 523.57,125.48 524.24,124.30 524.91,123.10 525.57,121.88 526.24,120.63 526.90,119.37 527.57,118.07 528.24,116.76 528.90,115.41 529.57,114.04 530.23,112.65 530.90,111.22 531.57,109.77 532.23,108.29 532.90,106.78 533.56,105.24 534.23,103.68 534.90,102.10 535.56,100.51 536.23,98.89 536.89,97.26 537.56,95.61 538.22,93.96 538.89,92.29 539.56,90.61 540.22,88.93 540.89,87.25 541.55,85.56 542.22,83.87 542.89,82.18 543.55,80.50 544.22,78.82 544.88,77.15 545.55,75.49 546.22,73.84 546.88,72.20 547.55,70.58 548.21,68.97 548.88,67.38 549.55,65.81 550.21,64.27 550.88,62.75 551.54,61.25 552.21,59.78 552.88,58.35 553.54,56.94 554.21,55.57 554.87,54.23 555.54,52.94 556.21,51.68 556.87,50.46 557.54,49.29 558.20,48.16 558.87,47.07 559.54,46.04 560.20,45.06 560.87,44.13 561.53,43.25 562.20,42.43 562.86,41.67 563.53,40.96 564.20,40.31 564.86,39.73 565.53,39.20 566.19,38.73 566.86,38.33 567.53,37.99 568.19,37.72 568.86,37.51 569.52,37.37 570.19,37.29 570.86,37.27 571.52,37.31 572.19,37.41 572.85,37.58 573.52,37.80 574.19,38.08 574.85,38.42 575.52,38.82 576.18,39.27 576.85,39.77 577.52,40.32 578.18,40.92 578.85,41.56 579.51,42.25 580.18,42.98 580.85,43.75 581.51,44.56 582.18,45.40 582.84,46.28 583.51,47.18 584.18,48.12 584.84,49.08 585.51,50.06 586.17,51.07 586.84,52.10 587.50,53.15 588.17,54.22 588.84,55.30 589.50,56.40 590.17,57.50 590.83,58.62 591.50,59.75 592.17,60.88 592.83,62.01 593.50,63.15 594.16,64.30 594.83,65.44 595.50,66.59 596.16,67.73 596.83,68.87 597.49,70.01 598.16,71.14 598.83,72.26 599.49,73.38 600.16,74.49 600.82,75.59 601.49,76.68 602.16,77.76 602.82,78.82 603.49,79.87 604.15,80.90 604.82,81.91 605.49,82.91 606.15,83.88 606.82,84.84 607.48,85.77 608.15,86.68 608.81,87.56 609.48,88.41 610.15,89.24 610.81,90.04 611.48,90.82 612.14,91.55 612.81,92.26 613.48,92.93 614.14,93.57 614.81,94.18 615.47,94.74 616.14,95.27 616.81,95.75 617.47,96.20 618.14,96.60 618.80,96.97 619.47,97.29 620.14,97.57 620.80,97.82 621.47,98.03 622.13,98.19 622.80,98.32 623.47,98.41 624.13,98.47 624.80,98.48 625.46,98.46 626.13,98.40 626.80,98.31 627.46,98.18 628.13,98.01 628.79,97.81 629.46,97.58 630.13,97.31 630.79,97.00 631.46,96.66 632.12,96.29 632.79,95.89 633.45,95.45 634.12,94.98 634.79,94.48 635.45,93.95 636.12,93.38 636.78,92.79 637.45,92.16 638.12,91.50 638.78,90.82 639.45,90.10 640.11,89.36 640.78,88.58 641.45,87.78 642.11,86.95 642.78,86.09 643.44,85.20 644.11,84.29 644.78,83.35 645.44,82.38 646.11,81.39 646.77,80.37 647.44,79.33 648.11,78.26 648.77,77.17 649.44,76.06 650.10,74.92 650.77,73.76 651.44,72.58 652.10,71.38 652.77,70.16 653.43,68.91 654.10,67.65 654.77,66.38 655.43,65.08 656.10,63.77 656.76,62.44 657.43,61.09 658.09,59.73 658.76,58.36 659.43,56.97 660.09,55.57 660.76,54.15 661.42,52.73 662.09,51.29 662.76,49.84 663.42,48.38 664.09,46.91 664.75,45.44 665.42,43.95 666.09,42.46 666.75,40.96 667.42,39.45 668.08,37.93 668.75,36.42"/>
<polyline fill="none" stroke="#1d1" stroke-width="1.1" points="69.40,351.44 70.07,351.44 70.73,351.44 71.40,351.44 72.07,351.44 72.73,351.43 73.40,351.43 74.06,351.43 74.73,351.43 75.40,351.42 76.06,351.42 76.73,351.42 77.40,351.42 78.06,351.41 78.73,351.41 79.40,351.41 80.06,351.40 80.73,351.40 81.40,351.40 82.06,351.40 82.73,351.39 83.39,351.39 84.06,351.39 84.73,351.38 85.39,351.38 86.06,351.38 86.73,351.37 87.39,351.37 88.06,351.37 88.73,351.36 89.39,351.36 90.06,351.36 90.73,351.35 91.39,351.35 92.06,351.34 92.72,351.34 93.39,351.34 94.06,351.33 94.72,351.33 95.39,351.32 96.06,351.32 96.72,351.31 97.39,351.31 98.06,351.31 98.72,351.30 99.39,351.30 100.05,351.29 100.72,351.29 101.39,351.28 102.05,351.28 102.72,351.27 103.39,351.27 104.05,351.26 104.72,351.26 105.39,351.25 106.05,351.25 106.72,351.24 107.39,351.24 108.05,351.23 108.72,351.23 109.38,351.22 110.05,351.22 110.72,351.21 111.38,351.21 112.05,351.20 112.72,351.20 113.38,351.19 114.05,351.18 114.72,351.18 115.38,351.17 116.05,351.17 116.72,351.16 117.38,351.15 118.05,351.15 118.71,351.14 119.38,351.14 120.05,351.13 120.71,351.12 121.38,351.12 122.05,351.11 122.71,351.10 123.38,351.10 124.05,351.09 124.71,351.08 125.38,351.08 126.04,351.07 126.71,351.06 127.38,351.06 128.04,351.05 128.71,351.04 129.38,351.03 130.04,351.03 130.71,351.02 131.38,351.01 132.04,351.01 132.71,351.00 133.38,350.99 134.04,350.98 134.71,350.97 135.37,350.97 136.04,350.96 136.71,350.95 137.37,350.94 138.04,350.94 138.71,350.93 139.37,350.92 140.04,350.91 140.71,350.90 141.37,350.90 142.04,350.89 142.70,350.88 143.37,350.87 144.04,350.86 144.70,350.85 145.37,350.84 146.04,350.84 146.70,350.83 147.37,350.82 148.04,350.81 148.70,350.80 149.37,350.79 150.04,350.78 150.70,350.77 151.37,350.76 152.03,350.75 152.70,350.75 153.37,350.74 154.03,350.73 154.70,350.72 155.37,350.71 156.03,350.70 156.70,350.69 157.37,350.68 158.03,350.67 158.70,350.66 159.37,350.65 160.03,350.63 160.70,350.62 161.36,350.61 162.03,350.60 162.70,350.59 163.36,350.58 164.03,350.57 164.70,350.55 165.36,350.54 166.03,350.53 166.70,350.52 167.36,350.50 168.03,350.49 168.69,350.48 169.36,350.46 170.03,350.45 170.69,350.44 171.36,350.42 172.03,350.41 172.69,350.39 173.36,350.38 174.03,350.36 174.69,350.35 175.36,350.33 176.03,350.31 176.69,350.30 177.36,350.28 178.02,350.26 178.69,350.24 179.36,350.23 180.02,350.21 180.69,350.19 181.36,350.17 182.02,350.15 182.69,350.13 183.36,350.11 184.02,350.09 184.69,350.07 185.36,350.04 186.02,350.02 186.69,350.00 187.35,349.98 188.02,349.95 188.69,349.93 189.35,349.91 190.02,349.88 190.69,349.86 191.35,349.83 192.02,349.80 192.69,349.78 193.35,349.75 194.02,349.72 194.68,349.69 195.35,349.67 196.02,349.64 196.68,349.61 197.35,349.58 198.02,349.55 198.68,349.51 199.35,349.48 200.02,349.45 200.68,349.42 201.35,349.38 202.02,349.35 202.68,349.31 203.35,349.28 204.01,349.24 204.68,349.21 205.35,349.17 206.01,349.13 206.68,349.09 207.35,349.05 208.01,349.01 208.68,348.97 209.35,348.93 210.01,348.89 210.68,348.85 211.35,348.81 212.01,348.76 212.68,348.72 213.34,348.67 214.01,348.63 214.68,348.58 215.34,348.53 216.01,348.49 216.68,348.44 217.34,348.39 218.01,348.34 218.68,348.29 219.34,348.23 220.01,348.18 220.67,348.13 221.34,348.08 222.01,348.02 222.67,347.97 223.34,347.91 224.01,347.85 224.67,347.79 225.34,347.74 226.01,347.68 226.67,347.62 227.34,347.55 228.01,347.49 228.67,347.43 229.34,347.37 230.00,347.30 230.67,347.24 231.34,347.17 232.00,347.10 232.67,347.03 233.34,346.96 234.00,346.89 234.67,346.82 235.34,346.75 236.00,346.68 236.67,346.60 237.33,346.53 238.00,346.45 238.67,346.38 239.33,346.30 240.00,346.22 240.67,346.14 241.33,346.06 242.00,345.97 242.67,345.89 243.33,345.80 244.00,345.72 244.67,345.63 245.33,345.54 246.00,345.45 246.66,345.36 247.33,345.26 248.00,345.17 248.66,345.07 249.33,344.98 250.00,344.88 250.66,344.78 251.33,344.68 252.00,344.57 252.66,344.47 253.33,344.36 254.00,344.26 254.66,344.15 255.33,344.04 255.99,343.93 256.66,343.81 257.33,343.70 257.99,343.58 258.66,343.46 259.33,343.34 259.99,343.22 260.66,343.10 261.33,342.97 261.99,342.85 262.66,342.72 263.32,342.59 263.99,342.46 264.66,342.32 265.32,342.19 265.99,342.05 266.66,341.91 267.32,341.77 267.99,341.63 268.66,341.48 269.32,341.34 269.99,341.19 270.66,341.04 271.32,340.88 271.99,340.73 272.65,340.57 273.32,340.41 273.99,340.25 274.65,340.09 275.32,339.93 275.99,339.76 276.65,339.59 277.32,339.42 277.99,339.25 278.65,339.07 279.32,338.89 279.99,338.71 280.65,338.53 281.32,338.35 281.98,338.16 282.65,337.97 283.32,337.78 283.98,337.59 284.65,337.39 285.32,337.20 285.98,336.99 286.65,336.79 287.32,336.59 287.98,336.38 288.65,336.17 289.31,335.96 289.98,335.74 290.65,335.52 291.31,335.30 291.98,335.08 292.65,334.86 293.31,334.63 293.98,334.40 294.65,334.17 295.31,333.93 295.98,333.69 296.65,333.45 297.31,333.21 297.98,332.96 298.64,332.72 299.31,332.46 299.98,332.21 300.64,331.95 301.31,331.69 301.98,331.43 302.64,331.17 303.31,330.90 303.98,330.63 304.64,330.35 305.31,330.08 305.98,329.80 306.64,329.51 307.31,329.23 307.97,328.94 308.64,328.65 309.31,328.36 309.97,328.06 310.64,327.76 311.31,327.46 311.97,327.15 312.64,326.84 313.31,326.53 313.97,326.21 314.64,325.90 315.30,325.58 315.97,325.25 316.64,324.93 317.30,324.60 317.97,324.26 318.64,323.93 319.30,323.59 319.97,323.25 320.64,322.90 321.30,322.55 321.97,322.20 322.64,321.85 323.30,321.49 323.97,321.13 324.63,320.77 325.30,320.40 325.97,320.03 326.63,319.66 327.30,319.28 327.97,318.90 328.63,318.52 329.30,318.13 329.97,317.74 330.63,317.35 331.30,316.96 331.97,316.56 332.63,316.16 333.30,315.75 333.96,315.34 334.63,314.93 335.30,314.52 335.96,314.10 336.63,313.68 337.30,313.26 337.96,312.83 338.63,312.40 339.30,311.96 339.96,311.53 340.63,311.09 341.29,310.64 341.96,310.20 342.63,309.75 343.29,309.30 343.96,308.84 344.63,308.39 345.29,307.93 345.96,307.47 346.63,307.01 347.29,306.54 347.96,306.07 348.63,305.60 349.29,305.13 349.96,304.66 350.62,304.19 351.29,303.71 351.96,303.23 352.62,302.75 353.29,302.27 353.96,301.79 354.62,301.31 355.29,300.83 355.96,300.34 356.62,299.86 357.29,299.37 357.95,298.89 358.62,298.40 359.29,297.91 359.95,297.42 360.62,296.94 361.29,296.45 361.95,295.96 362.62,295.47 363.29,294.99 363.95,294.50 364.62,294.01 365.29,293.52 365.95,293.04 366.62,292.55 367.28,292.07 367.95,291.58 368.62,291.10 369.28,290.62 369.95,290.14 370.62,289.65 371.28,289.18 371.95,288.70 372.62,288.22 373.28,287.75 373.95,287.27 374.62,286.80 375.28,286.33 375.95,285.87 376.61,285.40 377.28,284.94 377.95,284.47 378.61,284.02 379.28,283.56 379.95,283.10 380.61,282.65 381.28,282.20 381.95,281.75 382.61,281.31 383.28,280.87 383.94,280.43 384.61,279.99 385.28,279.56 385.94,279.12 386.61,278.69 387.28,278.27 387.94,277.84 388.61,277.42 389.28,277.00 389.94,276.58 390.61,276.17 391.28,275.76 391.94,275.35 392.61,274.94 393.27,274.54 393.94,274.14 394.61,273.74 395.27,273.34 395.94,272.95 396.61,272.56 397.27,272.17 397.94,271.79 398.61,271.40 399.27,271.03 399.94,270.65 400.61,270.28 401.27,269.91 401.94,269.54 402.60,269.17 403.27,268.81 403.94,268.45 404.60,268.10 405.27,267.75 405.94,267.40 406.60,267.05 407.27,266.71 407.94,266.37 408.60,266.03 409.27,265.70 409.93,265.37 410.60,265.04 411.27,264.72 411.93,264.40 412.60,264.09 413.27,263.78 413.93,263.47 414.60,263.16 415.27,262.86 415.93,262.57 416.60,262.27 417.27,261.99 417.93,261.70 418.60,261.42 419.26,261.14 419.93,260.87 420.60,260.61 421.26,260.35 421.93,260.09 422.60,259.84 423.26,259.60 423.93,259.36 424.60,259.12 425.26,258.90 425.93,258.68 426.60,258.47 427.26,258.26 427.93,258.07 428.59,257.88 429.26,257.70 429.93,257.52 430.59,257.36 431.26,257.20 431.93,257.06 432.59,256.92 433.26,256.79 433.93,256.67 434.59,256.57 435.26,256.47 435.92,256.38 436.59,256.30 437.26,256.24 437.92,256.18 438.59,256.14 439.26,256.10 439.92,256.08 440.59,256.08 441.26,256.08 441.92,256.10 442.59,256.13 443.26,256.17 443.92,256.22 444.59,256.29 445.25,256.38 445.92,256.47 446.59,256.58 447.25,256.71 447.92,256.85 448.59,257.00 449.25,257.17 449.92,257.36 450.59,257.56 451.25,257.78 451.92,258.01 452.58,258.26 453.25,258.53 453.92,258.81 454.58,259.11 455.25,259.43 455.92,259.77 456.58,260.13 457.25,260.51 457.92,260.91 458.58,261.33 459.25,261.78 459.92,262.26 460.58,262.76 461.25,263.29 461.91,263.84 462.58,264.43 463.25,265.05 463.91,265.70 464.58,266.38 465.25,267.09 465.91,267.84 466.58,268.63 467.25,269.45 467.91,270.31 468.58,271.21 469.25,272.14 469.91,273.12 470.58,274.14 471.24,275.21 471.91,276.31 472.58,277.47 473.24,278.66 473.91,279.91 474.58,281.20 475.24,282.54 475.91,283.94 476.58,285.38 477.24,286.87 477.91,288.42 478.57,290.03 479.24,291.68 479.91,293.40 480.57,295.17 481.24,297.00 481.91,298.89 482.57,300.84 483.24,302.85 483.91,304.92 484.57,307.06 485.24,309.26 485.91,311.52 486.57,313.86 487.24,316.26 487.90,318.73 488.57,321.27 489.24,323.88 489.90,326.57 490.57,329.33 491.24,332.16 491.90,335.08 492.57,338.06 493.24,341.13 493.90,344.28 494.57,347.51 495.24,350.82 495.90,354.22 496.57,357.70 497.23,361.27 497.90,364.93 498.57,368.67 499.23,372.51 499.90,376.43"/>
<path d="M87.49 386.0v-5M87.49 5.4v5M105.58 386.0v-5M105.58 5.4v5M123.66 386.0v-5M123.66 5.4v5M141.75 386.0v-5M141.75 5.4v5M159.84 386.0v-10M159.84 5.4v10M177.93 386.0v-5M177.93 5.4v5M196.02 386.0v-5M196.02 5.4v5M214.11 386.0v-5M214.11 5.4v5M232.19 386.0v-5M232.19 5.4v5M250.28 386.0v-10M250.28 5.4v10M268.37 386.0v-5M268.37 5.4v5M286.46 386.0v-5M286.46 5.4v5M304.55 386.0v-5M304.55 5.4v5M322.64 386.0v-5M322.64 5.4v5M340.72 386.0v-10M340.72 5.4v10M358.81 386.0v-5M358.81 5.4v5M376.90 386.0v-5M376.90 5.4v5M394.99 386.0v-5M394.99 5.4v5M413.08 386.0v-5M413.08 5.4v5M431.16 386.0v-10M431.16 5.4v10M449.25 386.0v-5M449.25 5.4v5M467.34 386.0v-5M467.34 5.4v5M485.43 386.0v-5M485.43 5.4v5M503.52 386.0v-5M503.52 5.4v5M521.61 386.0v-10M521.61 5.4v10M539.69 386.0v-5M539.69 5.4v5M557.78 386.0v-5M557.78 5.4v5M575.87 386.0v-5M575.87 5.4v5M593.96 386.0v-5M593.96 5.4v5M612.05 386.0v-10M612.05 5.4v10M630.14 386.0v-5M630.14 5.4v5M648.22 386.0v-5M648.22 5.4v5M666.31 386.0v-5M666.31 5.4v5M69.4 11.74h5M684.4 11.74h-5M69.4 18.09h5M684.4 18.09h-5M69.4 24.43h5M684.4 24.43h-5M69.4 30.77h5M684.4 30.77h-5M69.4 37.12h10M684.4 37.12h-10M69.4 43.46h5M684.4 43.46h-5M69.4 49.80h5M684.4 49.80h-5M69.4 56.15h5M684.4 56.15h-5M69.4 62.49h5M684.4 62.49h-5M69.4 68.83h10M684.4 68.83h-10M69.4 75.18h5M684.4 75.18h-5M69.4 81.52h5M684.4 81.52h-5M69.4 87.86h5M684.4 87.86h-5M69.4 94.21h5M684.4 94.21h-5M69.4 100.55h10M684.4 100.55h-10M69.4 106.89h5M684.4 106.89h-5M69.4 113.24h5M684.4 113.24h-5M69.4 119.58h5M684.4 119.58h-5M69.4 125.92h5M684.4 125.92h-5M69.4 132.27h10M684.4 132.27h-10M69.4 138.61h5M684.4 138.61h-5M69.4 144.95h5M684.4 144.95h-5M69.4 151.30h5M684.4 151.30h-5M69.4 157.64h5M684.4 157.64h-5M69.4 163.98h10M684.4 163.98h-10M69.4 170.33h5M684.4 170.33h-5M69.4 176.67h5M684.4 176.67h-5M69.4 183.01h5M684.4 183.01h-5M69.4 189.36h5M684.4 189.36h-5M69.4 195.70h10M684.4 195.70h-10M69.4 202.04h5M684.4 202.04h-5M69.4 208.39h5M684.4 208.39h-5M69.4 214.73h5M684.4 214.73h-5M69.4 221.07h5M684.4 221.07h-5M69.4 227.42h10M684.4 227.42h-10M69.4 233.76h5M684.4 233.76h-5M69.4 240.10h5M684.4 240.10h-5M69.4 246.45h5M684.4 246.45h-5M69.4 252.79h5M684.4 252.79h-5M69.4 259.13h10M684.4 259.13h-10M69.4 265.48h5M684.4 265.48h-5M69.4 271.82h5M684.4 271.82h-5M69.4 278.16h5M684.4 278.16h-5M69.4 284.51h5M684.4 284.51h-5M69.4 290.85h10M684.4 290.85h-10M69.4 297.19h5M684.4 297.19h-5M69.4 303.54h5M684.4 303.54h-5M69.4 309.88h5M684.4 309.88h-5M69.4 316.22h5M684.4 316.22h-5M69.4 322.57h10M684.4 322.57h-10M69.4 328.91h5M684.4 328.91h-5M69.4 335.25h5M684.4 335.25h-5M69.4 341.60h5M684.4 341.60h-5M69.4 347.94h5M684.4 347.94h-5M69.4 354.28h10M684.4 354.28h-10M69.4 360.63h5M684.4 360.63h-5M69.4 366.97h5M684.4 366.97h-5M69.4 373.31h5M684.4 373.31h-5M69.4 379.66h5M684.4 379.66h-5" stroke="#222" stroke-width="1.1" fill="none"/>
<rect x="69.4" y="5.4" width="615.0" height="380.6" fill="none" stroke="#222" stroke-width="1"/>
<g font-size="15"><text x="56.6" y="10.50" text-anchor="end" transform="translate(0,10.50) scale(1,1.045) translate(0,-10.50)">0.3</text><text x="56.6" y="42.22" text-anchor="end" transform="translate(0,42.22) scale(1,1.045) translate(0,-42.22)">0.2</text><text x="56.6" y="73.93" text-anchor="end" transform="translate(0,73.93) scale(1,1.045) translate(0,-73.93)">0.1</text><text x="56.6" y="105.65" text-anchor="end" transform="translate(0,105.65) scale(1,1.045) translate(0,-105.65)">0.0</text><text x="56.6" y="137.37" text-anchor="end" transform="translate(0,137.37) scale(1,1.045) translate(0,-137.37)"><tspan dy="1.3">−</tspan><tspan dy="-1.3">0.1</tspan></text><text x="56.6" y="169.08" text-anchor="end" transform="translate(0,169.08) scale(1,1.045) translate(0,-169.08)"><tspan dy="1.3">−</tspan><tspan dy="-1.3">0.2</tspan></text><text x="56.6" y="200.80" text-anchor="end" transform="translate(0,200.80) scale(1,1.045) translate(0,-200.80)"><tspan dy="1.3">−</tspan><tspan dy="-1.3">0.3</tspan></text><text x="56.6" y="232.52" text-anchor="end" transform="translate(0,232.52) scale(1,1.045) translate(0,-232.52)"><tspan dy="1.3">−</tspan><tspan dy="-1.3">0.4</tspan></text><text x="56.6" y="264.23" text-anchor="end" transform="translate(0,264.23) scale(1,1.045) translate(0,-264.23)"><tspan dy="1.3">−</tspan><tspan dy="-1.3">0.5</tspan></text><text x="56.6" y="295.95" text-anchor="end" transform="translate(0,295.95) scale(1,1.045) translate(0,-295.95)"><tspan dy="1.3">−</tspan><tspan dy="-1.3">0.6</tspan></text><text x="56.6" y="327.67" text-anchor="end" transform="translate(0,327.67) scale(1,1.045) translate(0,-327.67)"><tspan dy="1.3">−</tspan><tspan dy="-1.3">0.7</tspan></text><text x="56.6" y="359.38" text-anchor="end" transform="translate(0,359.38) scale(1,1.045) translate(0,-359.38)"><tspan dy="1.3">−</tspan><tspan dy="-1.3">0.8</tspan></text><text x="56.6" y="391.10" text-anchor="end" transform="translate(0,391.10) scale(1,1.045) translate(0,-391.10)"><tspan dy="1.3">−</tspan><tspan dy="-1.3">0.9</tspan></text><text x="70.80" y="410.9" text-anchor="middle" transform="translate(0,410.9) scale(1,1.045) translate(0,-410.9)"><tspan dy="0.4">−</tspan><tspan dy="-0.4" dx="0.8">5</tspan></text><text x="161.24" y="410.9" text-anchor="middle" transform="translate(0,410.9) scale(1,1.045) translate(0,-410.9)"><tspan dy="0.4">−</tspan><tspan dy="-0.4" dx="0.8">4</tspan></text><text x="251.68" y="410.9" text-anchor="middle" transform="translate(0,410.9) scale(1,1.045) translate(0,-410.9)"><tspan dy="0.4">−</tspan><tspan dy="-0.4" dx="0.8">3</tspan></text><text x="342.12" y="410.9" text-anchor="middle" transform="translate(0,410.9) scale(1,1.045) translate(0,-410.9)"><tspan dy="0.4">−</tspan><tspan dy="-0.4" dx="0.8">2</tspan></text><text x="432.56" y="410.9" text-anchor="middle" transform="translate(0,410.9) scale(1,1.045) translate(0,-410.9)"><tspan dy="0.4">−</tspan><tspan dy="-0.4" dx="0.8">1</tspan></text><text x="523.01" y="410.9" text-anchor="middle" transform="translate(0,410.9) scale(1,1.045) translate(0,-410.9)">0</text><text x="613.45" y="410.9" text-anchor="middle" transform="translate(0,410.9) scale(1,1.045) translate(0,-410.9)">1</text></g>
<defs><path id="th" d="M0,-4.3C0.4,-5.2 1.0,-5.5 2.0,-5.5L6.7,-5.5M3.4,-5.4C3.0,-3.5 2.4,-2.0 2.3,-1.0C2.2,-0.2 3.0,-0.1 3.9,-0.6M1.0,-7.1L3.0,-9.3L5.0,-7.1" fill="none" stroke="#111" stroke-width="1.05" stroke-linecap="round" stroke-linejoin="round"/></defs>
<text x="359" y="428.9" font-size="15">Log</text>
<use href="#th" transform="translate(388.2,428.6)"/>
<g transform="translate(11.9,237) rotate(-90)">
<text x="0" y="0" font-size="15">Index <tspan fill="#333">[</tspan>C<tspan font-size="10" dy="2.7">P</tspan><tspan dy="-2.7" font-family="Liberation Serif" fill="#444">(</tspan><tspan dx="7.6">​</tspan><tspan font-family="Liberation Serif" fill="#444">)</tspan><tspan fill="#333">]</tspan></text>
<use href="#th" transform="translate(68.5,0)"/>
</g>
<text x="162" y="48.5" font-size="14.8">Index functions of the isobaric heat capacity</text>
<g font-size="15">
<text x="162" y="73.6">C</text>
<text x="172.8" y="76.3" font-size="10">P</text>
<text x="179.7" y="73.6" font-family="Liberation Serif" fill="#444">(</text>
<use href="#th" transform="translate(185.3,73.7) scale(0.96)"/>
<text x="192.1" y="73.6" font-family="Liberation Serif" fill="#444">)</text>
<text x="196.1" y="73.6">,</text>
<use href="#th" transform="translate(204.6,73.7) scale(1.0)"/>
<path d="M216.2 69.1h7.6M216.2 72.1h7.6" stroke="#222" stroke-width="1"/>
<text x="228.8" y="73.6">|<tspan dx="-0.8">T</tspan><tspan dx="0.8"> / </tspan><tspan dx="-0.9">T</tspan></text>
<text x="262.9" y="76.4" font-size="10">c</text>
<text x="269.6" y="73.6">−1|, of hydrogen</text>
</g>
<g font-size="12.5">
<text x="406.6" y="216.6">T <tspan dx="0.4" fill="none">&gt;</tspan><tspan dx="0.5"> T</tspan><tspan font-size="9" dy="2.2">c</tspan></text>
<text x="442.6" y="318">T <tspan dx="0.6" fill="none">&lt;</tspan><tspan dx="0.4"> T</tspan><tspan font-size="9" dy="2.2">c</tspan></text>
<path d="M418.3 210.2L424.9 213.4L418.3 216.6M460.9 311.9L454.5 315L460.9 318.1" fill="none" stroke="#222" stroke-width="0.85"/>
<text x="506" y="279.7">T<tspan font-size="9" dy="2.2">melt</tspan><tspan dy="-1.2"> =</tspan><tspan dy="-1.0"> 13.96 K</tspan></text>
<text x="633" y="264">1000 K</text>
<text x="343" y="347">1 / <tspan font-family="Liberation Serif" font-style="italic">δ</tspan> − 1 <tspan dy="1.2" fill="#555">=</tspan><tspan dy="-1.2"> − 0.7912</tspan></text>
</g>
</svg>
</body></html>
